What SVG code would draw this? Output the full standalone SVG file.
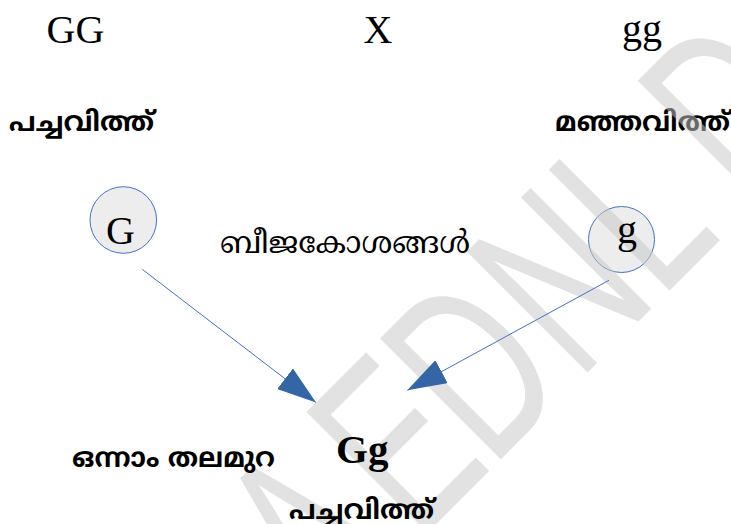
<svg xmlns="http://www.w3.org/2000/svg" width="731" height="524" viewBox="0 0 731 524">
<defs>
<style>
.lat{font-family:"Liberation Serif","Times New Roman",serif;font-size:40px;fill:#000}
.latb{font-family:"Liberation Serif","Times New Roman",serif;font-size:41px;font-weight:bold;fill:#000}
.mlb{font-family:"Noto Sans Malayalam","Noto Sans","DejaVu Sans",sans-serif;font-weight:bold;font-size:27px;fill:#000}
.mlr{font-family:"Noto Serif Malayalam","Noto Sans Malayalam","Noto Sans",serif;font-size:31px;fill:#000}
.gamete{fill:#ededed;stroke:#4472C4;stroke-width:1}
.conn{stroke:#4472C4;stroke-width:1;fill:none}
.wm{font-family:"Liberation Sans",Arial,sans-serif;font-size:248px;fill:#c8c8c8}
</style>
<marker id="head" markerUnits="userSpaceOnUse" markerWidth="40" markerHeight="27" refX="39" refY="13" orient="auto">
<path d="M0,0 L39,13 L0,26 Z" fill="#3465A4"/>
</marker>
</defs>
<rect width="731" height="524" fill="#fff"/>
<g id="parents">
<text class="lat" x="46.6" y="43">GG</text>
<text class="lat" x="363.6" y="43">X</text>
<text class="lat" x="622" y="42">gg</text>
</g>
<g id="label-green"><text class="mlb" x="9" y="131" textLength="145" lengthAdjust="spacingAndGlyphs">പച്ചവിത്ത്</text></g>
<g id="label-yellow"><text class="mlb" x="555" y="131" textLength="175" lengthAdjust="spacingAndGlyphs">മഞ്ഞവിത്ത്</text></g>
<g id="gamete-G"><circle class="gamete" cx="123.3" cy="220" r="33.3"/></g>
<g id="gamete-g"><circle class="gamete" cx="621.5" cy="239.5" r="33"/></g>
<g id="watermark" opacity="0.52">
<text class="wm" transform="rotate(-45) scale(0.65 1)" y="678.8"><tspan x="-329">A</tspan><tspan x="-135">E</tspan><tspan x="25">D</tspan><tspan x="214">N</tspan><tspan x="392">L</tspan><tspan x="586">D</tspan></text>
</g>
<g id="gamete-G-label"><text class="lat" x="120.5" y="244" text-anchor="middle">G</text></g>
<g id="gamete-g-label"><text class="lat" x="627" y="243" text-anchor="middle">g</text></g>
<g id="gametes-label"><text class="mlr" x="220" y="253" textLength="250" lengthAdjust="spacingAndGlyphs">ബീജകോശങ്ങൾ</text></g>
<g id="connectors">
<line class="conn" x1="142.5" y1="269.5" x2="316" y2="402.5" marker-end="url(#head)"/>
<line class="conn" x1="609" y1="280.3" x2="407.3" y2="390.3" marker-end="url(#head)"/>
</g>
<g id="f1-label"><text class="mlb" x="72" y="467" textLength="203" lengthAdjust="spacingAndGlyphs">ഒന്നാം തലമുറ</text></g>
<g id="f1"><text class="latb" x="336" y="463">Gg</text></g>
<g id="f1-phenotype"><text class="mlb" x="289" y="519" textLength="145" lengthAdjust="spacingAndGlyphs">പച്ചവിത്ത്</text></g>
</svg>
